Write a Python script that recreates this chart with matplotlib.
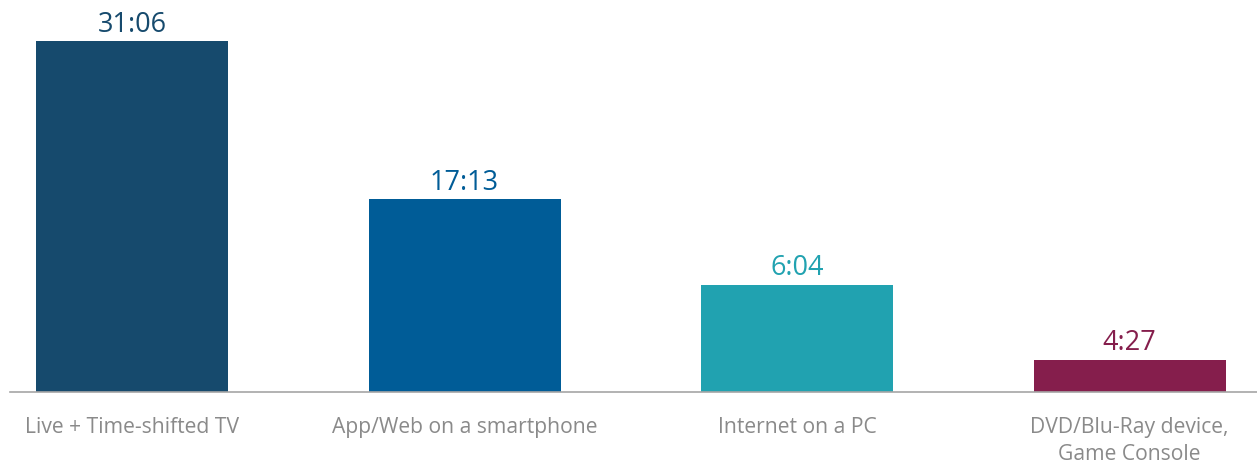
import matplotlib
matplotlib.use("Agg")
from matplotlib import pyplot as plt

plt.rcParams['font.family'] = ['Open Sans', 'DejaVu Sans']

categories = ["Live + Time-shifted TV", "App/Web on a smartphone",
              "Internet on a PC", "DVD/Blu-Ray device,\nGame Console"]
value_labels = ["31:06", "17:13", "6:04", "4:27"]
# bar heights as drawn in the picture (hours)
heights = [31.1, 17.1, 9.5, 2.85]
colors = ["#164a6d", "#005c97", "#21a2b0", "#851e4c"]

fig = plt.figure(figsize=(12.57, 4.64), dpi=100)
ax = fig.add_axes([10 / 1257, 71 / 464, 1 - 10 / 1257, 1 - 71 / 464])

x = range(len(categories))
ax.bar(x, heights, width=0.577, color=colors)
ax.set_xlim(-0.367, 3.383)
ax.set_ylim(0, 31.1 * 393 / 351)

for xi, h, lab, c in zip(x, heights, value_labels, colors):
    ax.text(xi, h + 0.3, lab, ha='center', va='bottom', fontsize=19.5, color=c)

for xi, cat in zip(x, categories):
    ax.text(xi, -2.1, cat, ha='center', va='top', fontsize=15.2,
            color='#8a8a8a', linespacing=1.4)

for s in ['top', 'right', 'left']:
    ax.spines[s].set_visible(False)
ax.spines['bottom'].set_color('#a6a6a6')
ax.spines['bottom'].set_linewidth(1.2)
ax.set_xticks([])
ax.set_yticks([])

fig.savefig("out.png", dpi=100)
